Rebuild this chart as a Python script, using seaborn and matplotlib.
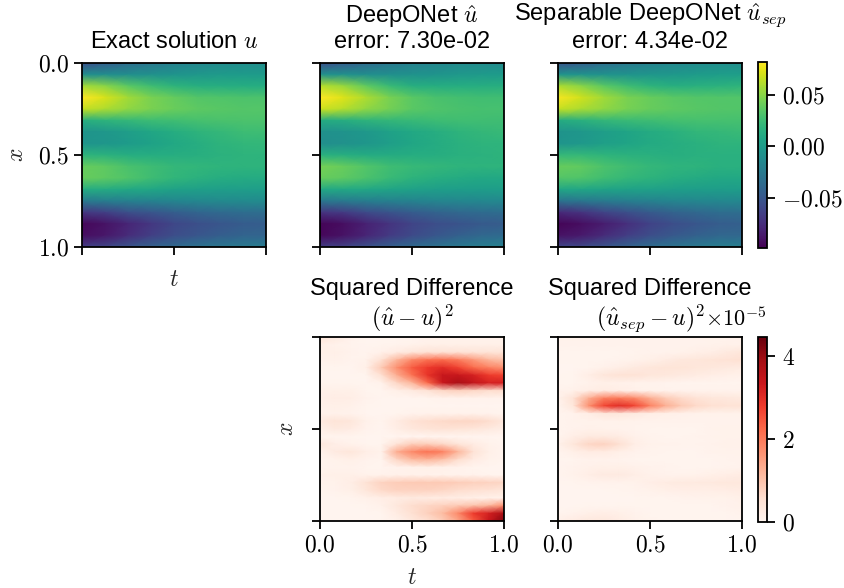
import numpy as np
import matplotlib
matplotlib.use("Agg")
import matplotlib.pyplot as plt
import seaborn as sns

# rows are x = 0 ... 1, columns are t = 0 ... 1
u_exact = [
    [-.055, -.045, -.035, -.027, -.020, -.015, -.012, -.010, -.010],
    [-.010, -.010, -.010, -.008, -.005, -.003, -.001, .000, .000],
    [.058, .050, .036, .026, .018, .015, .014, .013, .013],
    [.082, .071, .057, .046, .039, .034, .032, .031, .031],
    [.066, .060, .052, .046, .041, .037, .035, .034, .034],
    [.015, .018, .022, .025, .027, .029, .030, .031, .031],
    [-.005, -.003, .002, .008, .013, .018, .022, .025, .026],
    [-.005, -.004, .000, .005, .010, .014, .018, .020, .021],
    [.018, .017, .014, .013, .014, .015, .017, .018, .019],
    [.040, .037, .030, .026, .022, .020, .019, .018, .018],
    [.040, .037, .032, .026, .020, .017, .014, .012, .012],
    [.012, .012, .010, .008, .005, .003, .002, .002, .002],
    [-.025, -.022, -.020, -.018, -.016, -.014, -.013, -.012, -.012],
    [-.070, -.065, -.055, -.050, -.045, -.040, -.037, -.035, -.034],
    [-.095, -.090, -.080, -.070, -.060, -.055, -.050, -.047, -.045],
    [-.092, -.087, -.076, -.065, -.056, -.050, -.045, -.041, -.040],
    [-.065, -.060, -.050, -.042, -.036, -.030, -.026, -.024, -.022],
]
u_deeponet = [
    [-.055, -.047, -.036, -.027, -.020, -.016, -.013, -.012, -.012],
    [-.008, -.008, -.010, -.009, -.007, -.005, -.002, -.001, .000],
    [.062, .054, .038, .024, .015, .013, .013, .014, .015],
    [.082, .073, .060, .046, .036, .030, .028, .027, .027],
    [.068, .062, .052, .044, .036, .032, .030, .029, .029],
    [.012, .014, .018, .021, .023, .025, .027, .027, .026],
    [-.008, -.006, -.002, .004, .010, .014, .018, .021, .023],
    [-.010, -.008, -.004, .002, .008, .012, .016, .018, .019],
    [.016, .015, .012, .012, .013, .014, .016, .017, .018],
    [.044, .040, .033, .027, .023, .021, .019, .018, .018],
    [.040, .037, .031, .024, .018, .015, .012, .010, .010],
    [.010, .010, .009, .007, .004, .002, .001, .001, .002],
    [-.027, -.025, -.022, -.020, -.018, -.016, -.015, -.014, -.014],
    [-.072, -.068, -.058, -.052, -.047, -.042, -.038, -.036, -.035],
    [-.097, -.092, -.082, -.072, -.062, -.056, -.052, -.048, -.046],
    [-.095, -.090, -.080, -.068, -.058, -.050, -.044, -.038, -.036],
    [-.065, -.062, -.052, -.044, -.036, -.030, -.025, -.021, -.019],
]
u_separable = [
    [-.052, -.045, -.034, -.026, -.020, -.015, -.012, -.010, -.010],
    [-.006, -.006, -.007, -.006, -.004, -.002, .000, .001, .002],
    [.060, .050, .036, .026, .018, .015, .016, .017, .019],
    [.080, .069, .056, .046, .040, .036, .034, .033, .033],
    [.066, .059, .052, .045, .040, .037, .035, .034, .033],
    [.012, .016, .021, .024, .026, .028, .029, .029, .029],
    [-.006, -.003, .002, .007, .012, .016, .020, .022, .024],
    [-.005, -.002, .003, .007, .011, .014, .016, .018, .018],
    [.022, .022, .019, .017, .016, .015, .016, .016, .016],
    [.040, .038, .031, .026, .022, .019, .018, .016, .016],
    [.034, .032, .027, .022, .018, .015, .012, .010, .010],
    [.008, .008, .006, .005, .004, .002, .001, .001, .001],
    [-.030, -.027, -.024, -.021, -.019, -.016, -.015, -.014, -.014],
    [-.078, -.072, -.062, -.055, -.048, -.042, -.038, -.035, -.034],
    [-.097, -.092, -.084, -.074, -.063, -.056, -.050, -.046, -.044],
    [-.090, -.086, -.076, -.066, -.056, -.049, -.043, -.039, -.038],
    [-.060, -.058, -.050, -.042, -.034, -.028, -.024, -.021, -.020],
]

# squared differences, in units of 1e-5
err_deeponet = [
    [.45, .30, .08, .03, .03, .03, .05, .08, .10, .10, .10, .10, .10],
    [.15, .10, .06, .03, .05, .06, .10, .15, .15, .15, .15, .15, .15],
    [.15, .15, .08, .05, .12, .25, .40, .50, .50, .50, .45, .45, .45],
    [.08, .12, .06, .10, .55, 1.2, 1.8, 2.1, 2.2, 2.0, 1.6, 1.2, 1.0],
    [.05, .05, .03, .15, .90, 1.7, 2.4, 2.8, 3.0, 2.7, 2.2, 1.9, 1.7],
    [.03, .03, .03, .05, .55, 1.3, 2.1, 2.9, 3.4, 3.4, 3.2, 2.8, 2.7],
    [.05, .05, .05, .03, .10, .70, 1.2, 2.2, 3.4, 3.8, 3.5, 3.2, 3.2],
    [.15, .15, .15, .05, .03, .15, .30, .50, .70, .80, .70, .60, .60],
    [.15, .22, .20, .08, .03, .03, .03, .05, .08, .08, .08, .08, .08],
    [.12, .15, .12, .05, .03, .03, .03, .03, .03, .03, .03, .03, .03],
    [.12, .12, .08, .03, .03, .05, .08, .10, .10, .10, .10, .08, .05],
    [.30, .45, .40, .12, .05, .25, .50, .60, .65, .70, .70, .60, .35],
    [.15, .30, .25, .08, .03, .20, .35, .45, .50, .45, .40, .30, .20],
    [.05, .05, .05, .03, .03, .03, .03, .03, .03, .03, .03, .03, .03],
    [.35, .18, .10, .05, .05, .50, .85, .85, .70, .45, .25, .10, .03],
    [.08, .28, .40, .20, .10, 1.3, 1.8, 2.1, 1.9, 1.2, .50, .15, .05],
    [.05, .10, .15, .08, .05, .70, 1.1, 1.2, 1.0, .60, .25, .10, .05],
    [.05, .08, .08, .05, .03, .08, .12, .15, .12, .08, .05, .03, .03],
    [.12, .15, .15, .10, .10, .12, .12, .10, .10, .08, .08, .05, .05],
    [.08, .10, .20, .50, .75, .85, .90, .90, .90, .85, .80, .75, .70],
    [.05, .08, .15, .40, .65, .75, .75, .75, .70, .60, .55, .50, .40],
    [.02, .03, .05, .12, .20, .25, .30, .25, .25, .20, .15, .12, .12],
    [.02, .02, .03, .05, .12, .35, .60, .70, .80, .90, 1.0, 1.2, 1.7],
    [.02, .02, .02, .03, .05, .25, .55, .80, 1.1, 1.8, 2.8, 3.2, 3.8],
    [.02, .02, .02, .03, .05, .12, .35, .55, .85, 1.4, 2.4, 3.4, 4.2],
]
err_separable = [
    [.10, .10, .10, .08, .08, .08, .08, .08, .08, .08, .10, .10, .12],
    [.08, .08, .08, .08, .08, .08, .08, .08, .08, .08, .10, .12, .12],
    [.05, .05, .05, .05, .05, .06, .08, .08, .10, .15, .20, .30, .40],
    [.05, .05, .05, .05, .06, .10, .15, .25, .35, .40, .45, .50, .55],
    [.03, .03, .05, .12, .20, .30, .40, .45, .45, .40, .35, .30, .25],
    [.03, .05, .20, .40, .50, .50, .40, .35, .30, .25, .20, .15, .12],
    [.05, .05, .10, .15, .12, .10, .08, .06, .05, .05, .05, .05, .05],
    [.08, .12, .20, .25, .20, .12, .10, .08, .08, .08, .08, .08, .08],
    [.10, .50, 1.3, 1.9, 2.0, 1.8, 1.3, .90, .65, .50, .40, .35, .30],
    [.05, .40, 1.7, 2.7, 3.0, 2.7, 1.9, 1.3, .90, .65, .55, .50, .50],
    [.05, .08, .20, .40, .40, .30, .20, .15, .12, .10, .10, .10, .10],
    [.05, .08, .10, .10, .10, .08, .08, .08, .08, .08, .08, .08, .08],
    [.05, .08, .12, .10, .08, .06, .05, .05, .05, .05, .08, .10, .10],
    [.05, .20, .30, .30, .25, .12, .06, .05, .05, .06, .08, .10, .10],
    [.12, .40, .70, .75, .55, .20, .10, .08, .06, .06, .08, .12, .12],
    [.05, .15, .25, .25, .15, .08, .06, .05, .05, .05, .08, .10, .10],
    [.05, .05, .08, .08, .06, .05, .05, .05, .05, .05, .05, .06, .08],
    [.05, .08, .12, .15, .15, .12, .08, .06, .05, .05, .05, .06, .08],
    [.05, .10, .20, .28, .28, .20, .12, .08, .08, .10, .15, .20, .25],
    [.03, .05, .06, .08, .08, .10, .18, .25, .30, .30, .32, .35, .35],
    [.03, .03, .03, .03, .05, .06, .10, .15, .18, .20, .20, .22, .25],
    [.03, .03, .03, .03, .03, .03, .05, .05, .06, .08, .10, .10, .15],
    [.03, .03, .05, .05, .05, .05, .05, .05, .05, .05, .05, .08, .12],
    [.05, .08, .15, .20, .15, .08, .05, .05, .05, .05, .05, .05, .08],
    [.15, .25, .35, .35, .25, .12, .06, .05, .05, .05, .05, .05, .05],
]

u_min, u_max = -0.0985, 0.082
err_max = 4.46
tick_vals = [0, 0.5, 1]
tick_labels = ["$0.0$", "$0.5$", "$1.0$"]
u_ticks = [-0.05, 0.0, 0.05]
u_tick_labels = ["$-0.05$", "$0.00$", "$0.05$"]
err_ticks = [0, 2, 4]
err_tick_labels = ["$0$", "$2$", "$4$"]

sns.set_theme(style="ticks")
plt.rcParams['font.family'] = ['Liberation Sans', 'DejaVu Sans']
plt.rcParams['mathtext.fontset'] = 'cm'
plt.rcParams['axes.edgecolor'] = 'black'
plt.rcParams['xtick.color'] = 'black'
plt.rcParams['ytick.color'] = 'black'

W, H = 845, 588
LW = 1.3
FS = 17
fig = plt.figure(figsize=(W / 100, H / 100), dpi=100)


def box(x0, y0, x1, y1):
    # pixel box to figure fractions
    return [x0 / W, 1 - y1 / H, (x1 - x0) / W, (y1 - y0) / H]


def panel(rect, values, cmap, vmin, vmax, title, cax=None, xlabels=False, ylabels=False, pad=10.5):
    ax = fig.add_axes(box(*rect))
    data = np.array(values)
    sns.heatmap(data, ax=ax, cmap=cmap, vmin=vmin, vmax=vmax, shading="gouraud",
                cbar=cax is not None, cbar_ax=cax, xticklabels=False, yticklabels=False)
    nrow, ncol = data.shape
    ax.set_xlim(0, ncol - 1)
    ax.set_ylim(nrow - 1, 0)
    ax.set_aspect("auto")
    for s in ax.spines.values():
        s.set_visible(True)
        s.set_linewidth(LW)
        s.set_color("black")
    ax.set_xticks([t * (ncol - 1) for t in tick_vals])
    ax.set_yticks([t * (nrow - 1) for t in tick_vals])
    ax.set_xticklabels(tick_labels if xlabels else [])
    ax.set_yticklabels(tick_labels if ylabels else [], rotation=0)
    ax.tick_params(length=5.5, width=LW, labelsize=FS, color="black", pad=4,
                   bottom=True, left=True)
    ax.set_title(title, fontsize=FS, color="black", pad=pad, linespacing=1.1)
    return ax


def style_cbar(ax, ticks, labels):
    cb = ax.collections[0].colorbar
    cb.outline.set_visible(True)
    cb.outline.set_linewidth(LW)
    cb.outline.set_edgecolor("black")
    cb.set_ticks(ticks)
    cb.set_ticklabels(labels)
    cb.ax.tick_params(length=5.5, width=LW, labelsize=FS, color="black", pad=5.5, right=True)
    return cb


cax_top = fig.add_axes(box(758, 62, 767, 248))
cax_bot = fig.add_axes(box(758, 337, 767, 522))

ax1 = panel((82, 63, 266, 247), u_exact, "viridis", u_min, u_max, "Exact solution $u$", ylabels=True)
ax2 = panel((320, 63, 504, 247), u_deeponet, "viridis", u_min, u_max,
            "DeepONet $\\hat{u}$\nerror: 7.30e-02")
ax3 = panel((558, 63, 742, 247), u_separable, "viridis", u_min, u_max,
            "Separable DeepONet $\\hat{u}_{sep}$\nerror: 4.34e-02", cax=cax_top)
ax4 = panel((320, 337, 504, 521), err_deeponet, "Reds", 0, err_max,
            "Squared Difference\n$(\\hat{u} - u)^2$", xlabels=True, pad=8.5)
ax5 = panel((558, 337, 742, 521), err_separable, "Reds", 0, err_max,
            "Squared Difference\n$(\\hat{u}_{sep} - u)^2$", cax=cax_bot, xlabels=True, pad=8.5)

style_cbar(ax3, u_ticks, u_tick_labels)
style_cbar(ax5, err_ticks, err_tick_labels)
cax_bot.text(1.0, 1.03, "$\\times 10^{-5}$", transform=cax_bot.transAxes, ha="right", va="bottom",
             fontsize=16, color="black")

ax1.set_xlabel("$t$", fontsize=FS, labelpad=6)
ax1.set_ylabel("$x$", fontsize=FS, labelpad=7)
ax4.set_xlabel("$t$", fontsize=FS, labelpad=8)
ax4.set_ylabel("$x$", fontsize=FS, labelpad=6)

fig.savefig("out.png", dpi=100)
